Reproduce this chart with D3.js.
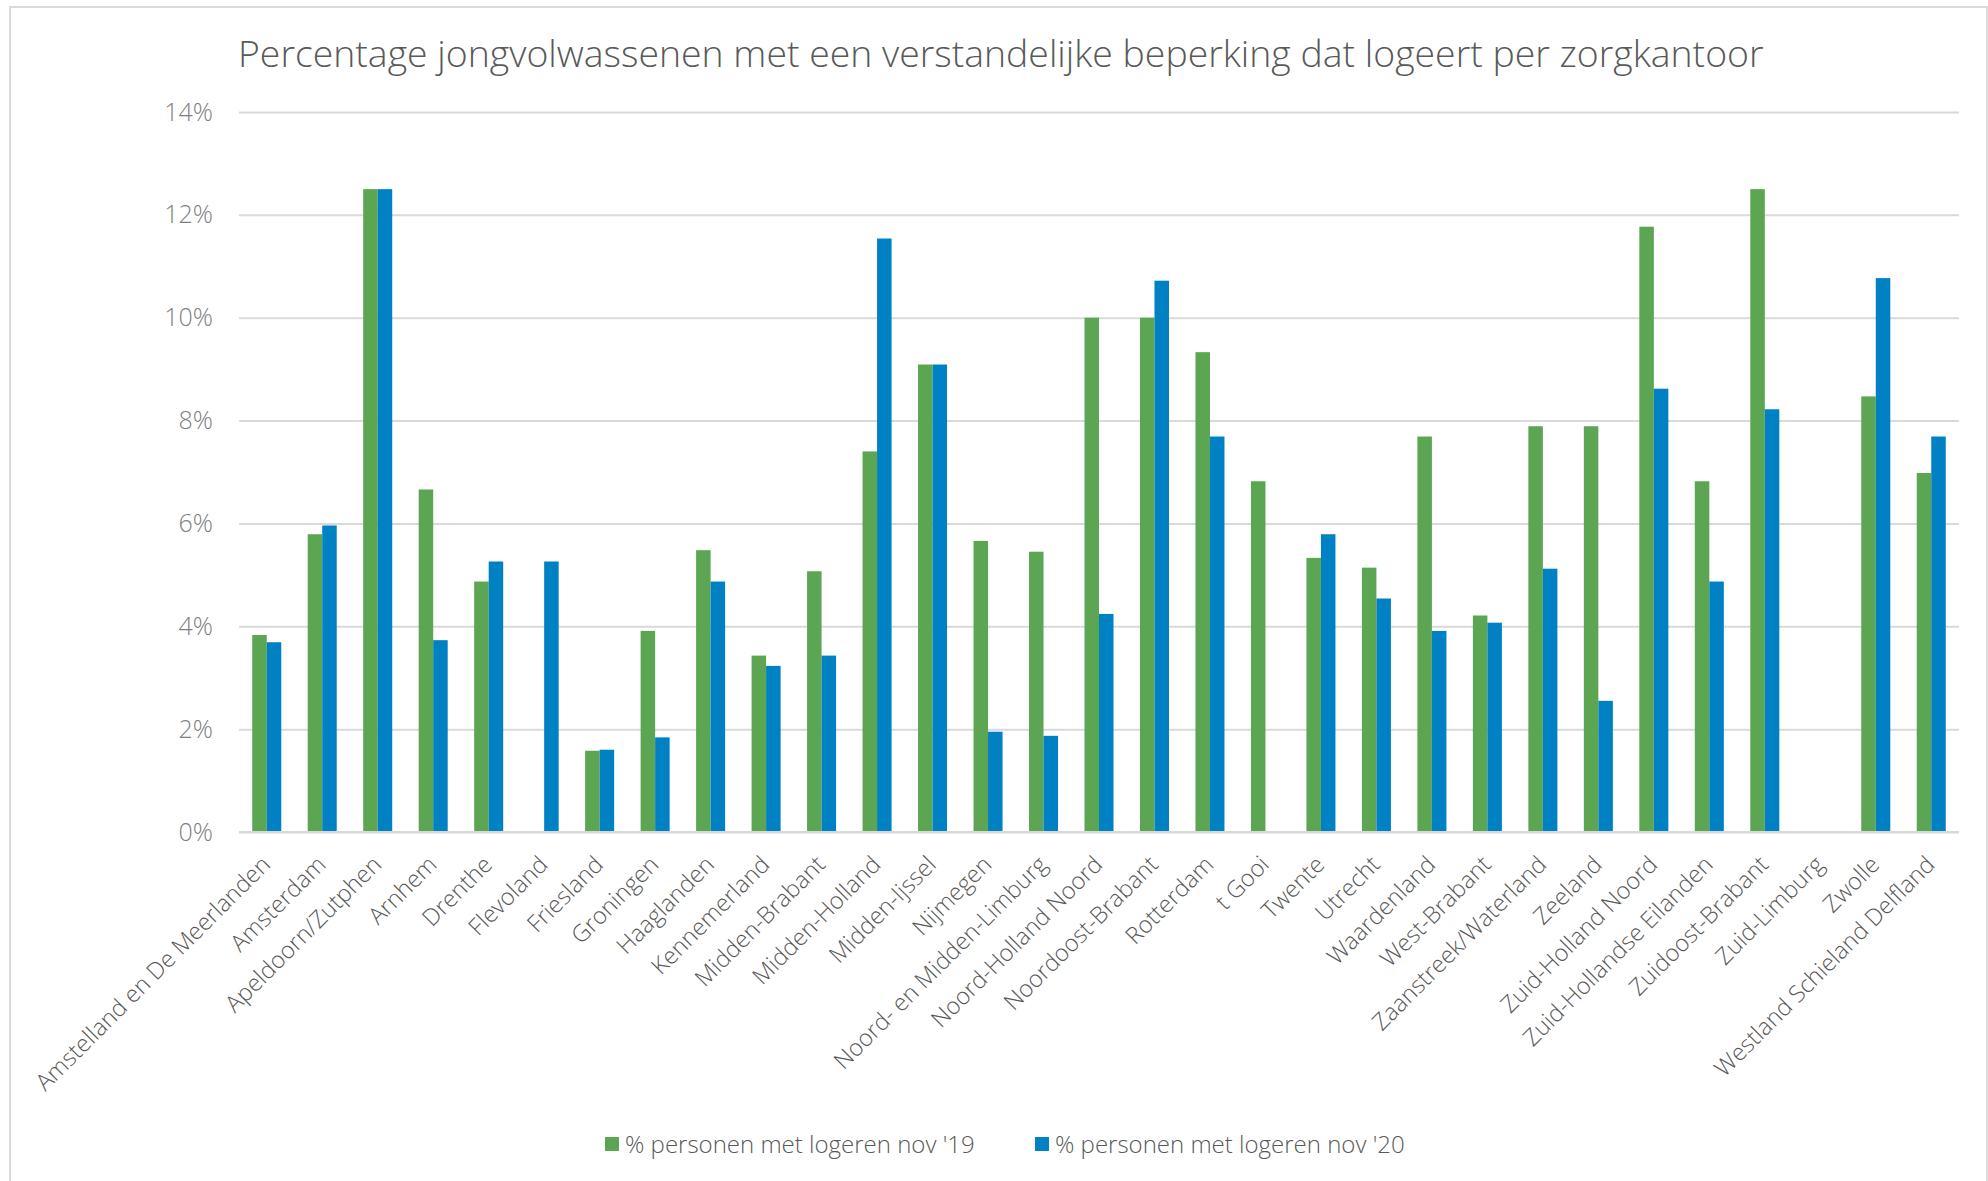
<!DOCTYPE html>
<html>
<head>
<meta charset="utf-8">
<script src="https://cdn.jsdelivr.net/npm/d3@7"></script>
<style>
    body { margin: 0; background: #ffffff; }
    svg { display: block; font-family: 'Open Sans', sans-serif; }
</style>
</head>
<body>
<div id="chart"></div>
<script>
// Zorgkantoren (x-axis categories)
const REGIONS = [
    "Amstelland en De Meerlanden", "Amsterdam", "Apeldoorn/Zutphen", "Arnhem",
    "Drenthe", "Flevoland", "Friesland", "Groningen", "Haaglanden", "Kennemerland",
    "Midden-Brabant", "Midden-Holland", "Midden-Ijssel", "Nijmegen",
    "Noord- en Midden-Limburg", "Noord-Holland Noord", "Noordoost-Brabant",
    "Rotterdam", "t Gooi", "Twente", "Utrecht", "Waardenland", "West-Brabant",
    "Zaanstreek/Waterland", "Zeeland", "Zuid-Holland Noord", "Zuid-Hollandse Eilanden",
    "Zuidoost-Brabant", "Zuid-Limburg", "Zwolle", "Westland Schieland Delfland"
];

// % personen met logeren nov '19 (null = no bar)
const NOV_19 = [
    3.83, 5.79, 12.5, 6.66, 4.87, null, 1.58, 3.91, 5.48, 3.43,
    5.07, 7.40, 9.09, 5.66, 5.45, 10.0, 10.0, 9.33, 6.82, 5.33,
    5.14, 7.69, 4.21, 7.89, 7.89, 11.77, 6.82, 12.5, null, 8.47, 6.98
];

// % personen met logeren nov '20
const NOV_20 = [
    3.69, 5.96, 12.5, 3.73, 5.26, 5.26, 1.60, 1.84, 4.87, 3.23,
    3.43, 11.54, 9.09, 1.95, 1.87, 4.24, 10.72, 7.69, null, 5.79,
    4.54, 3.91, 4.07, 5.12, 2.55, 8.62, 4.87, 8.22, null, 10.77, 7.69
];

const SERIES_NAMES = ["% personen met logeren nov '19", "% personen met logeren nov '20"];
const SERIES_COLORS = ["#5ba553", "#0081c4"];
const Y_TICKS = [0, 2, 4, 6, 8, 10, 12, 14];

const TITLE = "Percentage jongvolwassenen met een verstandelijke beperking dat logeert per zorgkantoor";

/**
 * Render grouped bar chart
 */
function renderChart() {
    const width = 1988;
    const height = 1181;
    const margin = {top: 112, right: 29, bottom: 349, left: 239};

    const svg = d3.select('#chart')
        .append('svg')
        .attr('width', width)
        .attr('height', height);

    // Light frame around the chart area
    svg.append('rect')
        .attr('x', 10)
        .attr('y', 7)
        .attr('width', width - 11)
        .attr('height', height)
        .attr('fill', 'none')
        .attr('stroke', '#d9d9d9')
        .attr('stroke-width', 2);

    const plotWidth = width - margin.left - margin.right;
    const plotHeight = height - margin.top - margin.bottom;

    const g = svg.append('g')
        .attr('transform', `translate(${margin.left},${margin.top})`);

    // Scales
    const x0 = d3.scaleBand()
        .domain(REGIONS)
        .range([0, plotWidth])
        .padding(0);

    const groupWidth = x0.bandwidth() * 0.523;
    const x1 = d3.scaleBand()
        .domain([0, 1])
        .range([0, groupWidth])
        .padding(0);

    const y = d3.scaleLinear()
        .domain([0, 14])
        .range([plotHeight, 0]);

    // Gridlines + y labels
    const yAxis = d3.axisLeft(y)
        .tickValues(Y_TICKS)
        .tickSize(-plotWidth)
        .tickPadding(26)
        .tickFormat(d => d + '%');

    const yg = g.append('g').call(yAxis);
    yg.select('.domain').remove();
    yg.selectAll('.tick line')
        .style('stroke', '#d9d9d9')
        .style('stroke-width', 2);
    yg.selectAll('.tick text')
        .style('fill', '#7f7f7f')
        .style('font-size', '25px')
        .style('font-weight', 300)
        .style('font-family', 'Open Sans, sans-serif');

    // Bars
    const series = [NOV_19, NOV_20];
    const groups = g.selectAll('.region')
        .data(REGIONS)
        .enter()
        .append('g')
        .attr('class', 'region')
        .attr('transform', d => `translate(${x0(d) + (x0.bandwidth() - groupWidth) / 2},0)`);

    groups.selectAll('rect')
        .data((d, i) => series.map((s, k) => ({k: k, v: s[i]})).filter(e => e.v !== null))
        .enter()
        .append('rect')
        .attr('x', d => x1(d.k))
        .attr('y', d => y(d.v))
        .attr('width', x1.bandwidth())
        .attr('height', d => plotHeight - y(d.v))
        .attr('fill', d => SERIES_COLORS[d.k]);

    // X axis baseline
    g.append('line')
        .attr('x1', 0)
        .attr('x2', plotWidth)
        .attr('y1', plotHeight)
        .attr('y2', plotHeight)
        .style('stroke', '#d9d9d9')
        .style('stroke-width', 2);

    // Rotated category labels
    const xAxis = d3.axisBottom(x0).tickSize(0).tickPadding(0);
    const xg = g.append('g')
        .attr('transform', `translate(0,${plotHeight})`)
        .call(xAxis);
    xg.select('.domain').remove();
    xg.selectAll('.tick text')
        .attr('text-anchor', 'end')
        .attr('dy', 0)
        .attr('y', 0)
        .attr('transform', 'translate(5,34) rotate(-45)')
        .style('fill', '#595959')
        .style('font-size', '23.5px')
        .style('font-weight', 300)
        .style('font-family', 'Open Sans, sans-serif');

    // Title
    svg.append('text')
        .attr('x', 238)
        .attr('y', 67)
        .style('fill', '#595959')
        .style('font-size', '37.4px')
        .style('font-weight', 300)
        .style('font-family', 'Open Sans, sans-serif')
        .text(TITLE);

    addLegend(svg);
}

/**
 * Legend below the labels
 */
function addLegend(svg) {
    const legendX = [605, 1035];
    const legendY = 1137;

    SERIES_NAMES.forEach((name, i) => {
        svg.append('rect')
            .attr('x', legendX[i])
            .attr('y', legendY)
            .attr('width', 14)
            .attr('height', 14)
            .attr('fill', SERIES_COLORS[i]);

        svg.append('text')
            .attr('x', legendX[i] + 20)
            .attr('y', legendY + 16)
            .style('fill', '#595959')
            .style('font-size', '24px')
            .style('font-weight', 300)
            .style('font-family', 'Open Sans, sans-serif')
            .text(name);
    });
}

renderChart();
</script>
</body>
</html>
